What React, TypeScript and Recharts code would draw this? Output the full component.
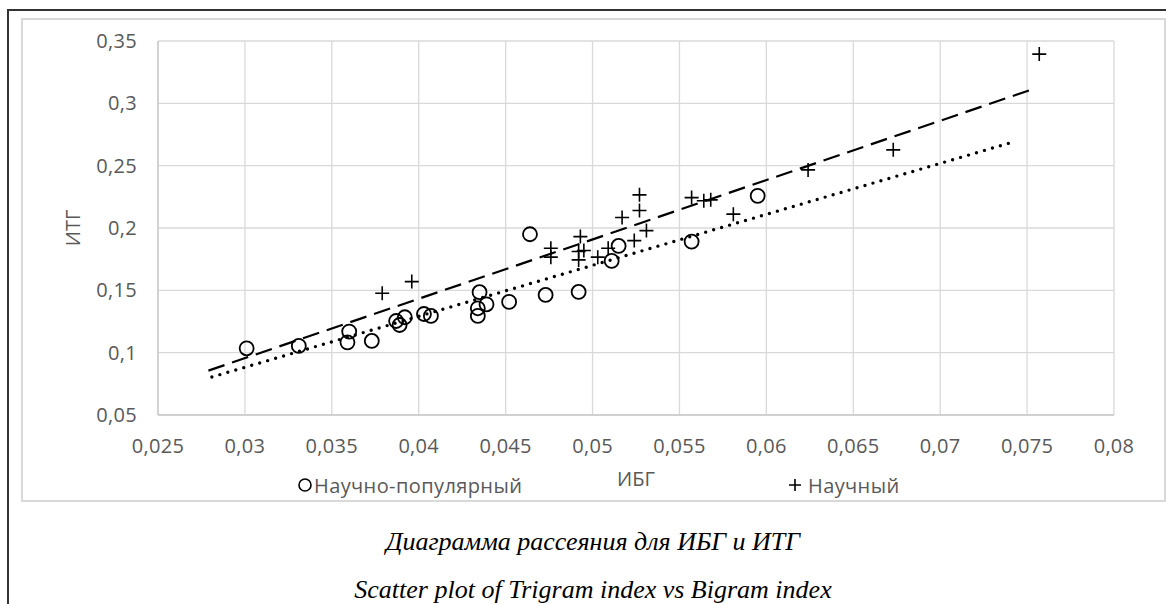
import { ScatterChart, Scatter, XAxis, YAxis, CartesianGrid, Legend } from "recharts";

// Научно-популярный (circles)
const popX = [0.0301, 0.0331, 0.036, 0.0359, 0.0373, 0.0387, 0.0389, 0.0392, 0.0403, 0.0407, 0.0435, 0.0434, 0.0434, 0.0439, 0.0452, 0.0464, 0.0473, 0.0492, 0.0511, 0.0515, 0.0557, 0.0595];
const popY = [0.1035, 0.1054, 0.1169, 0.1083, 0.1094, 0.1254, 0.1222, 0.1284, 0.131, 0.1295, 0.1485, 0.1356, 0.1295, 0.1388, 0.1407, 0.195, 0.1463, 0.1487, 0.1736, 0.1856, 0.1891, 0.2258];

// Научный (crosses)
const sciX = [0.0379, 0.0396, 0.0476, 0.0476, 0.0493, 0.0492, 0.0492, 0.0495, 0.0503, 0.0509, 0.0517, 0.0527, 0.0527, 0.0524, 0.0531, 0.0557, 0.0564, 0.0568, 0.0581, 0.0624, 0.0673, 0.0757];
const sciY = [0.1477, 0.157, 0.1838, 0.1766, 0.1931, 0.1811, 0.1744, 0.1819, 0.1766, 0.1838, 0.2084, 0.2266, 0.214, 0.1899, 0.1979, 0.2244, 0.2218, 0.2226, 0.2111, 0.2466, 0.2627, 0.3395];

// linear trend lines (end points)
const sciTrendX = [0.0279, 0.0752];
const sciTrendY = [0.0856, 0.3108];
const popTrendX = [0.0281, 0.0742];
const popTrendY = [0.0805, 0.269];

const xTicks = [0.025, 0.03, 0.035, 0.04, 0.045, 0.05, 0.055, 0.06, 0.065, 0.07, 0.075, 0.08];
const yTicks = [0.05, 0.1, 0.15, 0.2, 0.25, 0.3, 0.35];

const toPoints = (xs: number[], ys: number[]) => xs.map((x, i) => ({ x, y: ys[i] }));
const fmt = (v: number) => String(+v.toFixed(3)).replace(".", ",");

const FONT = "'Open Sans', sans-serif";
const GRAY = "#595959";
const tickStyle = { fill: GRAY, fontSize: 20, fontFamily: FONT, letterSpacing: 0.3 };

const Ring = (p: any) => (
  <circle cx={p.cx} cy={p.cy} r={7} fill="none" stroke="#000" strokeWidth={1.8} />
);
const Plus = (p: any) => (
  <path d={`M${p.cx - 7},${p.cy}h14M${p.cx},${p.cy - 7}v14`} stroke="#000" strokeWidth={1.6} fill="none" />
);
const NoDot = () => <g />;

const YTitle = (props: any) => {
  const vb = props.viewBox || {};
  const cx = 72;
  const cy = vb.y + vb.height / 2;
  return (
    <text x={cx} y={cy} transform={`rotate(-90 ${cx} ${cy})`} textAnchor="middle" dominantBaseline="central"
      fill={GRAY} fontSize={20} fontFamily={FONT}>
      ИТГ
    </text>
  );
};

const LegendBox = () => (
  <div style={{ position: "relative", height: 26, fontFamily: FONT, fontSize: 20, letterSpacing: 0.4, color: GRAY }}>
    <div style={{ position: "absolute", left: 297, top: 0, display: "flex", alignItems: "center", height: 26 }}>
      <svg width={16} height={16} style={{ marginRight: 1 }}>
        <circle cx={8} cy={8} r={6} fill="none" stroke="#000" strokeWidth={1.6} />
      </svg>
      <span>Научно-популярный</span>
    </div>
    <div style={{ position: "absolute", left: 787, top: 0, display: "flex", alignItems: "center", height: 26 }}>
      <svg width={16} height={16} style={{ marginRight: 5 }}>
        <path d="M2,8h12M8,2v12" stroke="#000" strokeWidth={1.6} />
      </svg>
      <span>Научный</span>
    </div>
  </div>
);

export default function App() {
  return (
    <div style={{ position: "fixed", left: 0, top: 0, width: 1166, height: 604, background: "#fff", overflow: "hidden" }}>
      <div style={{ position: "absolute", left: 7, top: 9, width: 1300, height: 800, borderLeft: "2px solid #333", borderTop: "2px solid #333" }} />
      <div style={{ position: "absolute", left: 21, top: 18, width: 1141, height: 480, border: "2px solid #d9d9d9" }} />
      <div style={{ position: "absolute", left: 0, top: 0 }}>
        <ScatterChart width={1166} height={500} margin={{ top: 41, right: 52, bottom: 55, left: 58 }}>
          <CartesianGrid stroke="#d9d9d9" strokeWidth={1.3} />
          <XAxis
            type="number"
            dataKey="x"
            domain={[0.025, 0.08]}
            ticks={xTicks}
            tickFormatter={fmt}
            axisLine={{ stroke: "#bfbfbf" }}
            tickLine={false}
            tickMargin={18}
            height={30}
            tick={tickStyle}
            label={{ value: "ИБГ", position: "bottom", offset: 27, fill: GRAY, fontSize: 20, fontFamily: FONT }}
          />
          <YAxis
            type="number"
            dataKey="y"
            domain={[0.05, 0.35]}
            ticks={yTicks}
            tickFormatter={fmt}
            axisLine={{ stroke: "#bfbfbf" }}
            tickLine={false}
            tickMargin={15}
            width={100}
            tick={tickStyle}
            label={<YTitle />}
          />
          <Scatter
            name="sciTrend"
            data={toPoints(sciTrendX, sciTrendY)}
            shape={NoDot}
            line={{ stroke: "#000", strokeWidth: 2.2, strokeDasharray: "17 8" }}
            isAnimationActive={false}
          />
          <Scatter
            name="popTrend"
            data={toPoints(popTrendX, popTrendY)}
            shape={NoDot}
            line={{ stroke: "#000", strokeWidth: 3.4, strokeDasharray: "0 8.3", strokeLinecap: "round" }}
            isAnimationActive={false}
          />
          <Scatter name="Научно-популярный" data={toPoints(popX, popY)} shape={Ring} isAnimationActive={false} />
          <Scatter name="Научный" data={toPoints(sciX, sciY)} shape={Plus} isAnimationActive={false} />
          <Legend
            layout="horizontal"
            verticalAlign="middle"
            align="center"
            content={<LegendBox />}
            wrapperStyle={{ top: 472, left: 0, width: 1166 }}
          />
        </ScatterChart>
      </div>
      <div style={{ position: "absolute", left: 10, width: 1166, top: 527, textAlign: "center", fontFamily: "'Liberation Serif', serif", fontStyle: "italic", fontSize: 26, lineHeight: "30px" }}>
        Диаграмма рассеяния для ИБГ и ИТГ
      </div>
      <div style={{ position: "absolute", left: 10, width: 1166, top: 575, textAlign: "center", fontFamily: "'Liberation Serif', serif", fontStyle: "italic", fontSize: 26, lineHeight: "30px" }}>
        Scatter plot of Trigram index vs Bigram index
      </div>
    </div>
  );
}
